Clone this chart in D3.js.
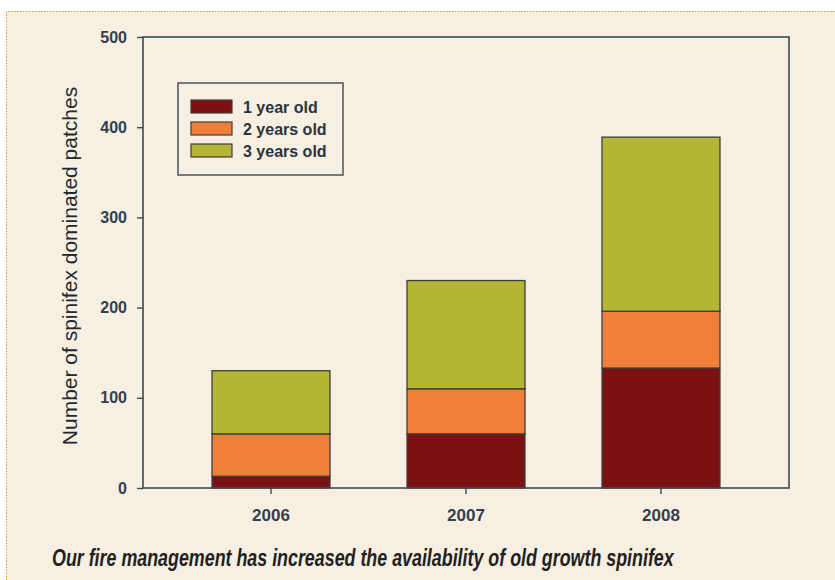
<!DOCTYPE html>
<html>
<head>
<meta charset="utf-8">
<script src="https://cdn.jsdelivr.net/npm/d3@7/dist/d3.min.js"></script>
<style>
  html, body { margin: 0; padding: 0; background: #ffffff; }
  svg { display: block; }
</style>
</head>
<body>
<div id="chart"></div>
<script>
// Spinifex-dominated patches by age since fire, per survey year
const years = ["2006", "2007", "2008"];
const oneYearOld = [13, 60, 133];
const twoYearsOld = [47, 50, 63];
const threeYearsOld = [70, 120, 193];
const seriesNames = ["1 year old", "2 years old", "3 years old"];
const seriesColors = ["#7b1111", "#ef7f3b", "#b4b534"];
const yTicks = [0, 100, 200, 300, 400, 500];

const W = 835, H = 580;
const margin = { left: 143, right: 46, top: 37, bottom: 92 };

const svg = d3.select("#chart").append("svg")
  .attr("width", W).attr("height", H);

// page panel with dotted edge
svg.append("rect").attr("x", 0).attr("y", 0).attr("width", W).attr("height", H)
  .attr("fill", "#ffffff");
svg.append("rect").attr("x", 6).attr("y", 11).attr("width", W).attr("height", H)
  .attr("fill", "#f8efe3");
svg.append("path")
  .attr("d", `M6.5,${H} V11.5 H${W}`)
  .attr("fill", "none").attr("stroke", "#d2a22a").attr("stroke-width", 1)
  .attr("stroke-dasharray", "1.5,1.5");

const x0 = margin.left, x1 = W - margin.right;
const y0 = H - margin.bottom, y1 = margin.top;

const x = d3.scaleBand().domain(years).range([x0, x1])
  .paddingInner(0.395).paddingOuter(0.354);
const y = d3.scaleLinear().domain([0, 500]).range([y0, y1]);

const rows = years.map((yr, i) => ({
  year: yr, s0: oneYearOld[i], s1: twoYearsOld[i], s2: threeYearsOld[i]
}));
const stacked = d3.stack().keys(["s0", "s1", "s2"])(rows);

const axisColor = "#3c4a52";
const labelColor = "#33404a";
const sans = "Liberation Sans, Arial, Helvetica, sans-serif";

// bars
svg.append("g").selectAll("g").data(stacked).join("g")
  .attr("fill", (d, i) => seriesColors[i])
  .selectAll("rect").data(d => d).join("rect")
  .attr("x", d => x(d.data.year))
  .attr("width", x.bandwidth())
  .attr("y", d => y(d[1]))
  .attr("height", d => y(d[0]) - y(d[1]))
  .attr("stroke", "#3a3f3c").attr("stroke-width", 1.3);

// frame
svg.append("rect").attr("x", x0).attr("y", y1)
  .attr("width", x1 - x0).attr("height", y0 - y1)
  .attr("fill", "none").attr("stroke", axisColor).attr("stroke-width", 1.6);

// y axis
const yAxis = svg.append("g").attr("transform", `translate(${x0},0)`)
  .call(d3.axisLeft(y).tickValues(yTicks).tickSize(6).tickPadding(10));
yAxis.select(".domain").remove();
yAxis.selectAll("line").attr("stroke", axisColor).attr("stroke-width", 1.4);
yAxis.selectAll("text").attr("fill", labelColor)
  .style("font-family", sans)
  .style("font-size", "16px").style("font-weight", "bold");

// x axis
const xAxis = svg.append("g").attr("transform", `translate(0,${y0})`)
  .call(d3.axisBottom(x).tickSize(6).tickPadding(15));
xAxis.select(".domain").remove();
xAxis.selectAll("line").attr("stroke", axisColor).attr("stroke-width", 1.4);
xAxis.selectAll("text").attr("fill", labelColor)
  .style("font-family", sans)
  .style("font-size", "17px").style("font-weight", "bold");

// y axis title
svg.append("text")
  .attr("transform", `translate(77,266) rotate(-90)`)
  .attr("text-anchor", "middle")
  .attr("fill", "#222a30")
  .style("font-family", sans)
  .style("font-size", "21px")
  .text("Number of spinifex dominated patches");

// legend
const lg = svg.append("g").attr("transform", "translate(178,83)");
lg.append("rect").attr("width", 165).attr("height", 92)
  .attr("fill", "none").attr("stroke", axisColor).attr("stroke-width", 1.4);
seriesNames.forEach((name, i) => {
  const row = lg.append("g").attr("transform", `translate(13,${17 + i * 22})`);
  row.append("rect").attr("width", 41).attr("height", 13)
    .attr("fill", seriesColors[i]).attr("stroke", "#3a3f3c").attr("stroke-width", 1.2);
  row.append("text").attr("x", 52).attr("y", 12.5)
    .attr("fill", "#2a343c")
    .style("font-family", sans)
    .style("font-size", "16px").style("font-weight", "bold")
    .text(name);
});

// caption, condensed bold italic: squeeze horizontally to the target width
const captionWidth = 622;
const caption = svg.append("text")
  .attr("x", 0).attr("y", 0)
  .attr("fill", "#231f20")
  .style("font-family", "Liberation Sans Narrow, Liberation Sans, Arial, sans-serif")
  .style("font-size", "24px").style("font-weight", "bold").style("font-style", "italic")
  .text("Our fire management has increased the availability of old growth spinifex");
const natural = caption.node().getComputedTextLength();
caption.attr("transform", `translate(52,566) scale(${captionWidth / natural},1)`);
</script>
</body>
</html>
